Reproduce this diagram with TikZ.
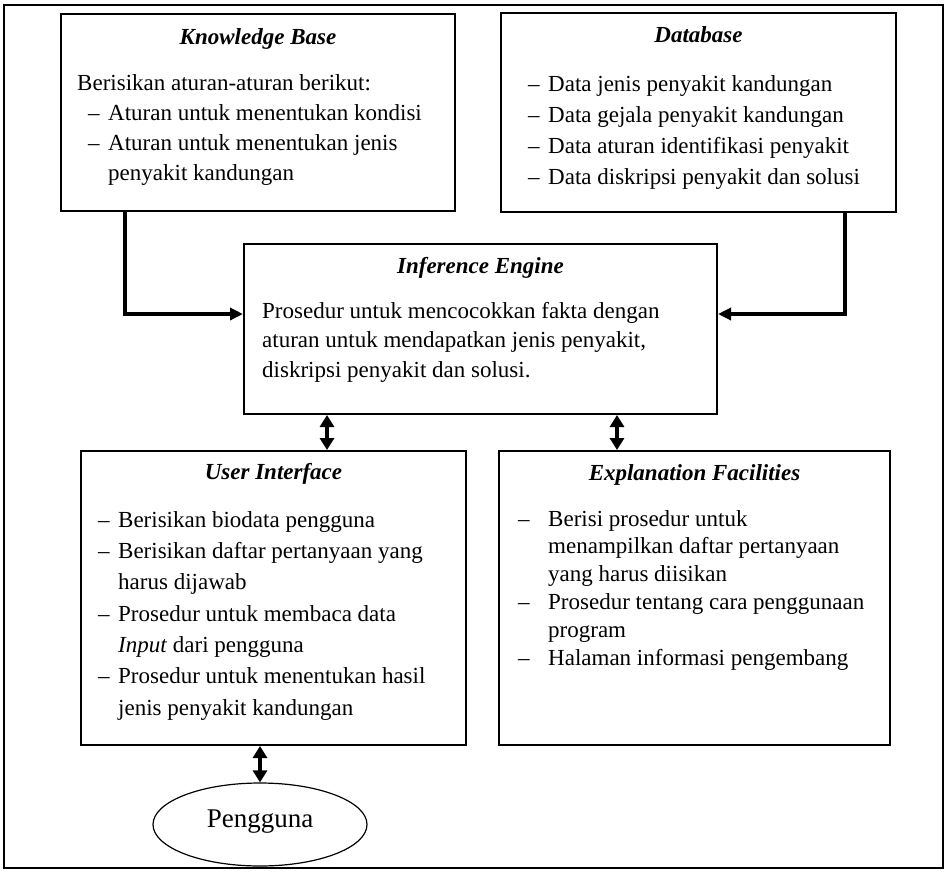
\documentclass[tikz,border=0pt]{standalone}
\usepackage{fontspec}
\setmainfont{Liberation Serif}
\usetikzlibrary{positioning, shapes.geometric, arrows.meta}
\tikzset{
    box/.style={draw, line width=2pt, anchor=north west, inner sep=0pt},
    title/.style={anchor=base, inner sep=0pt, font=\fontsize{23}{28}\selectfont\bfseries\itshape},
    body/.style={anchor=north west, inner sep=0pt},
    flow/.style={line width=4pt, -{Triangle[length=13pt, width=12pt]}},
    both/.style={line width=4pt, {Triangle[length=12pt, width=14pt]}-{Triangle[length=12pt, width=14pt]}}
}
\begin{document}
\begin{tikzpicture}[x=1pt, y=-1pt]
    \useasboundingbox (0,0) rectangle (948,871);
    \draw[line width=2pt] (4,5) rectangle (943,868);

    % boxes
    \node[box, minimum width=394pt, minimum height=197pt] (kb) at (60,13) {};
    \node[box, minimum width=395pt, minimum height=199pt] (db) at (500,12) {};
    \node[box, minimum width=473pt, minimum height=170pt] (ie) at (243,243) {};
    \node[box, minimum width=385pt, minimum height=294pt] (ui) at (80,450) {};
    \node[box, minimum width=391pt, minimum height=294pt] (ef) at (498,450) {};
    \node[ellipse, draw, line width=1.2pt, minimum width=214pt, minimum height=83pt,
          inner sep=0pt, text depth=12pt, font=\fontsize{27}{32}\selectfont] (pg) at (260,824.5) {Pengguna};

    % titles
    \node[title] (kbt) at ([yshift=-31pt]kb.north) {Knowledge Base};
    \node[title] (dbt) at ([yshift=-30pt]db.north) {Database};
    \node[title] (iet) at ([yshift=-30pt]ie.north) {Inference Engine};
    \node[title] (uit) at ([yshift=-29pt]ui.north) {User Interface};
    \node[title] (eft) at ([yshift=-30pt]ef.north) {Explanation Facilities};

    % texts
    \node[body, font=\fontsize{23}{30}\selectfont] (kbx) at ([xshift=17pt, yshift=-56pt]kb.north west) {%
        \begin{tabular}{@{}p{11pt}@{}p{20pt}@{}l@{}}
        \multicolumn{3}{@{}l@{}}{Berisikan aturan-aturan berikut:}\\
        & -- & Aturan untuk menentukan kondisi\\
        & -- & Aturan untuk menentukan jenis\\
        & & penyakit kandungan
        \end{tabular}};
    \node[body, font=\fontsize{23}{31}\selectfont] (dbx) at ([xshift=28pt, yshift=-57.3pt]db.north west) {%
        \begin{tabular}{@{}p{20pt}@{}l@{}}
        -- & Data jenis penyakit kandungan\\
        -- & Data gejala penyakit kandungan\\
        -- & Data aturan identifikasi penyakit\\
        -- & Data diskripsi penyakit dan solusi
        \end{tabular}};
    \node[body, font=\fontsize{23}{29.5}\selectfont] (iex) at ([xshift=19pt, yshift=-54.4pt]ie.north west) {%
        \begin{tabular}{@{}l@{}}
        Prosedur untuk mencocokkan fakta dengan\\
        aturan untuk mendapatkan jenis penyakit,\\
        diskripsi penyakit dan solusi.
        \end{tabular}};
    \node[body, font=\fontsize{23}{31.3}\selectfont] (uix) at ([xshift=18pt, yshift=-55.1pt]ui.north west) {%
        \begin{tabular}{@{}p{20pt}@{}l@{}}
        -- & Berisikan biodata pengguna\\
        -- & Berisikan daftar pertanyaan yang\\
           & harus dijawab\\
        -- & Prosedur untuk membaca data\\
           & \textit{Input} dari pengguna\\
        -- & Prosedur untuk menentukan hasil\\
           & jenis penyakit kandungan
        \end{tabular}};
    \node[body, font=\fontsize{23}{27.8}\selectfont] (efx) at ([xshift=20pt, yshift=-56.5pt]ef.north west) {%
        \begin{tabular}{@{}p{30pt}@{}l@{}}
        -- & Berisi prosedur untuk\\
           & menampilkan daftar pertanyaan\\
           & yang harus diisikan\\
        -- & Prosedur tentang cara penggunaan\\
           & program\\
        -- & Halaman informasi pengembang
        \end{tabular}};

    % connectors
    \draw[flow] ([xshift=65pt]kb.south west) |- ([yshift=15pt]ie.west);
    \draw[flow] ([xshift=-52pt]db.south east) |- ([yshift=15pt]ie.east);
    \draw[both] ([xshift=84pt]ie.south west) -- ([xshift=247pt]ui.north west);
    \draw[both] ([xshift=374pt]ie.south west) -- ([xshift=119pt]ef.north west);
    \draw[both] ([xshift=180pt]ui.south west) -- (pg.north);
\end{tikzpicture}
\end{document}
